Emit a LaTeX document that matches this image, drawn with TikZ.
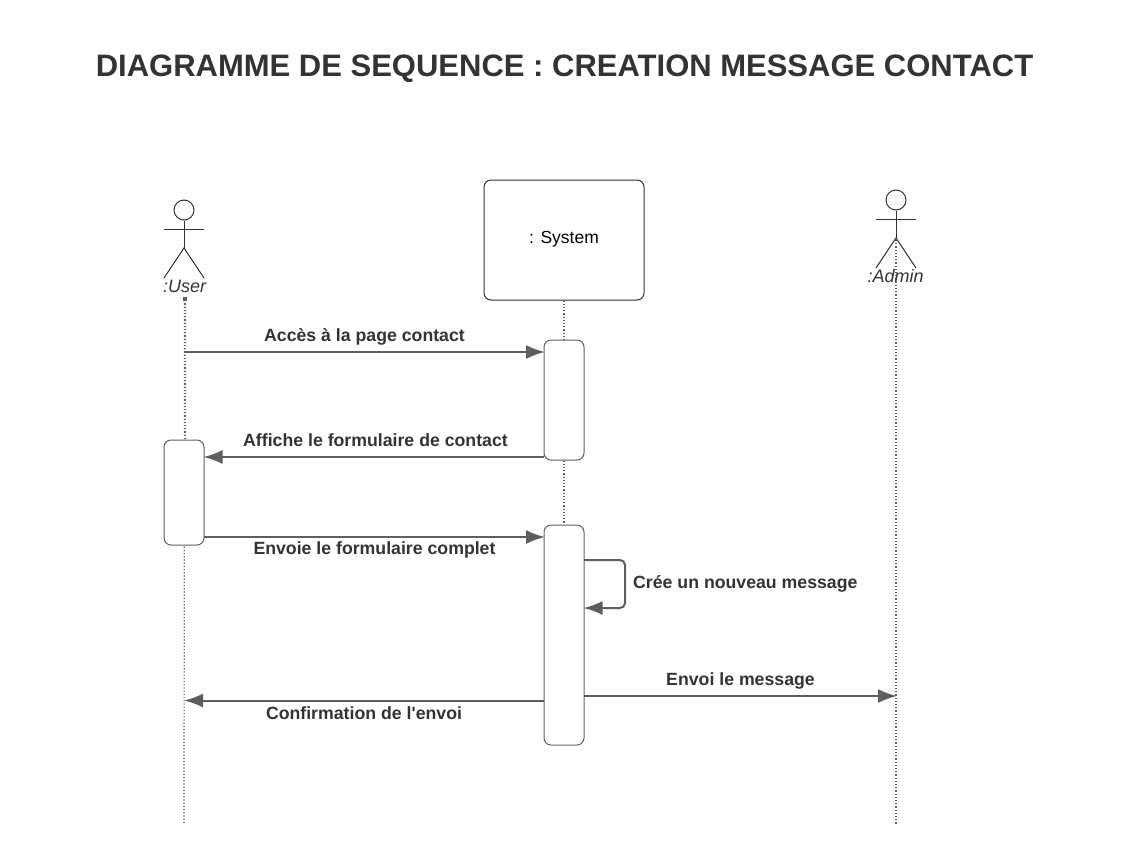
\documentclass[tikz,border=0pt]{standalone}
\usepackage{fontspec}
\setmainfont{Liberation Sans}
\usetikzlibrary{arrows.meta,positioning}
\definecolor{linegray}{HTML}{5E5E5E}
\definecolor{textgray}{HTML}{333333}
\definecolor{boxgray}{HTML}{5A5F66}
\tikzset{
	activebox/.style={draw=boxgray,fill=white,line width=1pt,rounded corners=7pt,minimum width=40pt,inner sep=0pt},
	lifeline/.style={draw=linegray,line width=1.2pt,dotted},
	stick/.style={draw=textgray,line width=1pt},
	msg/.style={draw=linegray,line width=2pt,-{Latex[length=19pt,width=14pt]}},
	msglabel/.style={font=\fontsize{17.7}{20}\selectfont\bfseries,text=textgray,inner sep=0pt},
	actorlabel/.style={font=\fontsize{18}{20}\selectfont\itshape,text=textgray,inner sep=0pt},
}
\begin{document}
\begin{tikzpicture}[x=1pt,y=-1pt]
	\useasboundingbox (0,0) rectangle (1129,865);
	% title
	\node[font=\fontsize{31}{36}\selectfont\bfseries,text=textgray,inner sep=0pt] (title) at (564.5,69) {DIAGRAMME DE SEQUENCE : CREATION MESSAGE CONTACT};
	% lifelines
	\node[draw=textgray,line width=1pt,rounded corners=7pt,minimum width=160pt,minimum height=120pt,inner sep=0pt] (system) at (564,240) {};
	\node[font=\fontsize{17.5}{20}\selectfont,text=black,inner sep=0pt] (systemtext) at (564,239) {: System};
	\coordinate (userstart) at (184.5,297);
	\coordinate (userend) at (184,825);
	\coordinate (systemend) at (564,525);
	\coordinate (adminstart) at (896,240);
	\coordinate (adminend) at (896,825);
	\draw[lifeline] (userstart) -- (userend);
	\draw[lifeline,line width=2pt] (userstart) -- (184.5,440);
	\draw[lifeline] (system.south) -- (systemend);
	\draw[lifeline] (adminstart) -- (adminend);
	\fill[linegray] (182.5,297) rectangle (186.5,301);
	% actors
	\node[stick,circle,minimum size=20pt,inner sep=0pt] (userhead) at (184,210) {};
	\coordinate (userhip) at (184,248);
	\coordinate (userarml) at (164,229);
	\coordinate (userarmr) at (204,229);
	\coordinate (userlegl) at (164,278);
	\coordinate (userlegr) at (204,278);
	\draw[stick] (userhead) -- (userhip);
	\draw[stick] (userarml) -- (userarmr);
	\draw[stick] (userlegl) -- (userhip) -- (userlegr);
	\node[actorlabel] (userlabel) at (184.5,286) {:User};
	\node[stick,circle,minimum size=20pt,inner sep=0pt] (adminhead) at (896,200) {};
	\coordinate (adminhip) at (896,238);
	\coordinate (adminarml) at (876,219);
	\coordinate (adminarmr) at (916,219);
	\coordinate (adminlegl) at (876,268);
	\coordinate (adminlegr) at (916,268);
	\draw[stick] (adminhead) -- (adminhip);
	\draw[stick] (adminarml) -- (adminarmr);
	\draw[stick] (adminlegl) -- (adminhip) -- (adminlegr);
	\node[actorlabel] (adminlabel) at (895.5,276.5) {:Admin};
	% activations
	\node[activebox,minimum height=120pt] (sysfirst) at (564,400) {};
	\node[activebox,minimum height=105pt] (userbox) at (184,492.5) {};
	\node[activebox,minimum height=220pt] (syssecond) at (564,635) {};
	% messages
	\coordinate (m1a) at (184,352);
	\coordinate (m1b) at (545,352);
	\coordinate (m2a) at (544,457);
	\coordinate (m2b) at (203.5,457);
	\coordinate (m3a) at (204,537);
	\coordinate (m3b) at (545,537);
	\coordinate (m4a) at (584,560);
	\coordinate (m4b) at (583.5,608);
	\coordinate (m4c) at (625,560);
	\coordinate (m4d) at (625,608);
	\coordinate (m5a) at (544,700.5);
	\coordinate (m5b) at (184,700.5);
	\coordinate (m6a) at (584,696);
	\coordinate (m6b) at (897,696);
	\draw[msg] (m1a) -- (m1b);
	\draw[msg] (m2a) -- (m2b);
	\draw[msg] (m3a) -- (m3b);
	\draw[msg,rounded corners=5pt] (m4a) -- (m4c) -- (m4d) -- (m4b);
	\draw[msg] (m5a) -- (m5b);
	\draw[msg] (m6a) -- (m6b);
	% labels
	\node[msglabel] (m1text) at (364.5,336.5) {Accès à la page contact};
	\node[msglabel] (m2text) at (375.5,440) {Affiche le formulaire de contact};
	\node[msglabel] (m3text) at (374.5,550) {Envoie le formulaire complet};
	\node[msglabel,anchor=west] (m4text) at (633,583.5) {Crée un nouveau message};
	\node[msglabel] (m5text) at (364,713) {Confirmation de l\textquotesingle envoi};
	\node[msglabel] (m6text) at (740.5,680.5) {Envoi le message};
\end{tikzpicture}
\end{document}
